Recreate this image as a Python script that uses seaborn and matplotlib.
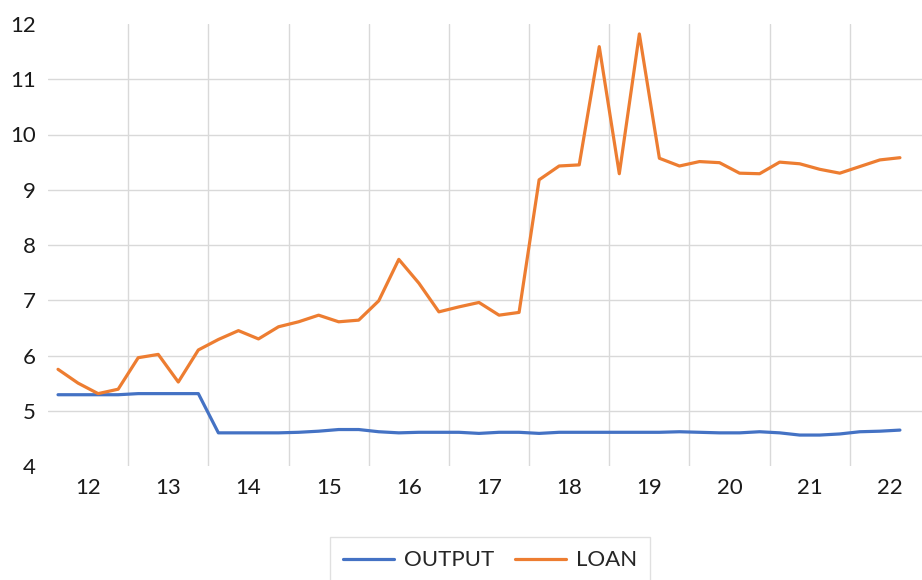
import numpy as np
import pandas as pd
import matplotlib
matplotlib.use("Agg")
import matplotlib.pyplot as plt
import seaborn as sns

# quarterly series, 2012 Q1 .. 2022 Q3
years = ["12", "13", "14", "15", "16", "17", "18", "19", "20", "21", "22"]

output = [5.29, 5.29, 5.29, 5.29, 5.31, 5.31, 5.31, 5.31,
          4.60, 4.60, 4.60, 4.60, 4.61, 4.63, 4.66, 4.66,
          4.62, 4.60, 4.61, 4.61, 4.61, 4.59, 4.61, 4.61,
          4.59, 4.61, 4.61, 4.61, 4.61, 4.61, 4.61, 4.62,
          4.61, 4.60, 4.60, 4.62, 4.60, 4.56, 4.56, 4.58,
          4.62, 4.63, 4.65]

loan = [5.75, 5.50, 5.31, 5.39, 5.96, 6.02, 5.52, 6.10,
        6.29, 6.45, 6.30, 6.52, 6.61, 6.73, 6.61, 6.64,
        6.99, 7.74, 7.31, 6.79, 6.88, 6.96, 6.73, 6.78,
        9.18, 9.43, 9.45, 11.59, 9.29, 11.82, 9.57, 9.43,
        9.51, 9.49, 9.30, 9.29, 9.50, 9.47, 9.37, 9.30,
        9.42, 9.54, 9.58]

quarter = np.arange(len(loan))
df = pd.DataFrame({
    "q": np.concatenate([quarter, quarter]),
    "value": output + loan,
    "series": ["OUTPUT"] * len(output) + ["LOAN"] * len(loan),
})

sns.set_style("white")
plt.rcParams["font.family"] = ["Lato", "DejaVu Sans"]

fig = plt.figure(figsize=(9.22, 5.8), dpi=100)
ax = fig.add_axes([48 / 922, 114 / 580, 882 / 922, 442 / 580])

sns.lineplot(data=df, x="q", y="value", hue="series",
             palette={"OUTPUT": "#4472C4", "LOAN": "#ED7D31"},
             linewidth=2.3, ax=ax, legend=False)

ax.set_xlim(-0.5, 43.5)
ax.set_ylim(4, 12)
ax.set_yticks(range(4, 13))
ax.set_xticks([1.5 + 4 * k for k in range(len(years))])
ax.set_xticklabels(years)
ax.set_xticks([3.5 + 4 * k for k in range(len(years) - 1)], minor=True)
ax.tick_params(axis="both", which="both", length=0, labelsize=16, colors="#1a1a1a")
ax.tick_params(axis="y", pad=9)
ax.tick_params(axis="x", pad=9)
ax.set_xlabel("")
ax.set_ylabel("")

ax.grid(axis="y", which="major", color="#D9D9D9", linewidth=1)
ax.grid(axis="x", which="minor", color="#D9D9D9", linewidth=1)
ax.grid(axis="x", which="major", visible=False)
gl = ax.yaxis.get_gridlines()
gl[0].set_visible(False)
gl[-1].set_visible(False)
ax.set_axisbelow(True)
for s in ax.spines.values():
    s.set_visible(False)

handles = [plt.Line2D([], [], color="#4472C4", linewidth=2.3),
           plt.Line2D([], [], color="#ED7D31", linewidth=2.3)]
leg = fig.legend(handles, ["OUTPUT", "LOAN"], loc="upper center",
                 bbox_to_anchor=(490 / 922, 1 - 537 / 580), ncol=2,
                 fontsize=16, frameon=True, fancybox=False,
                 handlelength=2.3, handletextpad=0.45, columnspacing=0.9,
                 borderpad=0.6, borderaxespad=0)
leg.get_frame().set_edgecolor("#D9D9D9")
leg.get_frame().set_linewidth(1)

fig.savefig("out.png", dpi=100)
